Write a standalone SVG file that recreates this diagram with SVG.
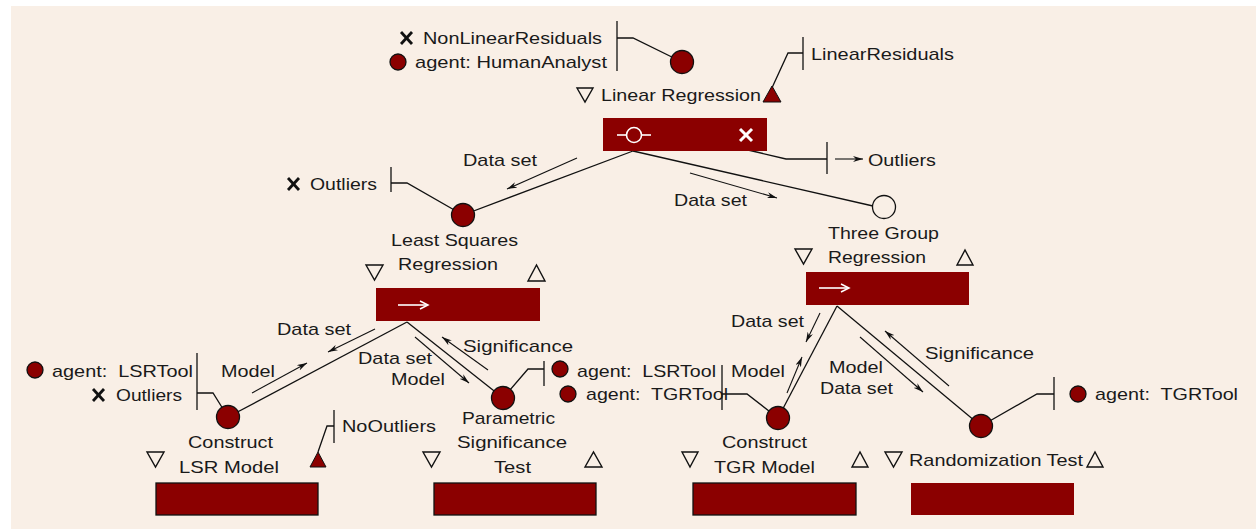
<svg xmlns="http://www.w3.org/2000/svg" width="1256" height="529" viewBox="0 0 1256 529">
<style>
text{font-family:"Liberation Sans",Arial,sans-serif;font-size:17px;fill:#1a1a1a}
.box{fill:#8b0000}
.bk{stroke:#111;stroke-width:1.3}
.dot{fill:#8b0000;stroke:#111;stroke-width:1.3}
.ln{fill:none;stroke:#111;stroke-width:1.3}
.ar{fill:none;stroke:#111;stroke-width:1.1;marker-end:url(#ah)}
.tri{fill:none;stroke:#111;stroke-width:1.4}
.ftri{fill:#8b0000;stroke:#111;stroke-width:1}
.xm{stroke:#111;stroke-width:2.8}
.wh{stroke:#fff;stroke-width:1.6;fill:none}
</style>
<defs>
<marker id="ah" viewBox="0 0 10 6" refX="10" refY="3" markerWidth="10" markerHeight="6" markerUnits="userSpaceOnUse" orient="auto"><path d="M0,0 L10,3 L0,6 L3,3 z" fill="#111"/></marker>
</defs>
<rect x="11" y="6" width="1245" height="523" fill="#f9efe6"/>

<g id="connectors">
<line class="ln" x1="633" y1="151" x2="463" y2="215"/>
<line class="ln" x1="633" y1="151" x2="873" y2="206"/>
<polyline class="ln" points="748,150 786,159 827,159"/>
<line class="ln" x1="827" y1="142" x2="827" y2="174"/>
<line class="ar" x1="835" y1="159" x2="863" y2="159"/>
<line class="ln" x1="617" y1="21" x2="617" y2="71"/>
<polyline class="ln" points="617,38 633,38 682,62"/>
<line class="ln" x1="803" y1="37" x2="803" y2="70"/>
<polyline class="ln" points="803,53 788,53 771,90"/>
<line class="ln" x1="391" y1="167" x2="391" y2="192"/>
<polyline class="ln" points="391,183 407,183 463,215"/>
<line class="ar" x1="577" y1="158" x2="507" y2="189"/>
<line class="ar" x1="690" y1="173" x2="777" y2="198"/>
<line class="ln" x1="407" y1="322" x2="228" y2="417"/>
<line class="ln" x1="407" y1="322" x2="503" y2="398"/>
<line class="ln" x1="197" y1="353" x2="197" y2="410"/>
<polyline class="ln" points="197,393 213,393 228,417"/>
<line class="ln" x1="334" y1="410" x2="334" y2="443"/>
<polyline class="ln" points="334,426 327,426 318,452"/>
<line class="ln" x1="544" y1="361" x2="544" y2="386"/>
<polyline class="ln" points="544,369 528,369 503,398"/>
<line class="ar" x1="375" y1="329" x2="328" y2="352"/>
<line class="ar" x1="252" y1="393" x2="307" y2="363"/>
<line class="ar" x1="415" y1="337" x2="469" y2="383"/>
<line class="ar" x1="488" y1="370" x2="442" y2="337"/>
<line class="ln" x1="837" y1="306" x2="778" y2="418"/>
<line class="ln" x1="837" y1="306" x2="981" y2="426"/>
<line class="ln" x1="722" y1="365" x2="722" y2="410"/>
<polyline class="ln" points="722,394 747,394 778,418"/>
<line class="ln" x1="1054" y1="377" x2="1054" y2="410"/>
<polyline class="ln" points="1054,394 1037,394 981,426"/>
<line class="ar" x1="820" y1="313" x2="806" y2="342"/>
<line class="ar" x1="787" y1="393" x2="802" y2="357"/>
<line class="ar" x1="860" y1="337" x2="923" y2="392"/>
<line class="ar" x1="949" y1="386" x2="885" y2="331"/>
</g>

<g id="linear-regression">
<circle class="dot" cx="682" cy="62" r="11.5"/>
<line class="xm" x1="401" y1="32" x2="412" y2="44"/><line class="xm" x1="412" y1="32" x2="401" y2="44"/>
<text x="423" y="44" textLength="179" lengthAdjust="spacingAndGlyphs">NonLinearResiduals</text>
<circle class="dot" cx="398" cy="62" r="8"/>
<text x="415" y="68" textLength="192" lengthAdjust="spacingAndGlyphs">agent: HumanAnalyst</text>
<text x="811" y="60" textLength="143" lengthAdjust="spacingAndGlyphs">LinearResiduals</text>
<polygon class="ftri" points="763,102 772,86 781,102"/>
<polygon class="tri" points="577,88 593,88 585,102"/>
<text x="601" y="101" textLength="160" lengthAdjust="spacingAndGlyphs">Linear Regression</text>
<rect class="box" x="603" y="118" width="164" height="33"/>
<line class="wh" x1="617" y1="135" x2="626" y2="135"/><circle class="wh" cx="634" cy="135" r="7.5"/><line class="wh" x1="642" y1="135" x2="651" y2="135"/>
<line stroke="#fff" stroke-width="3" x1="740" y1="129" x2="752" y2="141"/><line stroke="#fff" stroke-width="3" x1="752" y1="129" x2="740" y2="141"/>
<text x="868" y="166" textLength="68" lengthAdjust="spacingAndGlyphs">Outliers</text>
<text x="463" y="166" textLength="74" lengthAdjust="spacingAndGlyphs">Data set</text>
<text x="674" y="206" textLength="73" lengthAdjust="spacingAndGlyphs">Data set</text>
</g>

<g id="least-squares-regression">
<circle class="dot" cx="463" cy="215" r="11.5"/>
<line class="xm" x1="288" y1="178" x2="299" y2="190"/><line class="xm" x1="299" y1="178" x2="288" y2="190"/>
<text x="310" y="190" textLength="67" lengthAdjust="spacingAndGlyphs">Outliers</text>
<text x="391" y="246" textLength="127" lengthAdjust="spacingAndGlyphs">Least Squares</text>
<text x="398" y="270" textLength="100" lengthAdjust="spacingAndGlyphs">Regression</text>
<polygon class="tri" points="366,265 383,265 374.5,280"/>
<polygon class="tri" points="528,281 545,281 536.5,265"/>
<rect class="box" x="376" y="288" width="164" height="33"/>
<line class="wh" x1="398" y1="305" x2="427" y2="305" stroke-width="1.5"/><path d="M420,301 L428,305 L420,309" fill="none" stroke="#fff" stroke-width="1.5"/>
<text x="277" y="335" textLength="74" lengthAdjust="spacingAndGlyphs">Data set</text>
<text x="221" y="377" textLength="54" lengthAdjust="spacingAndGlyphs">Model</text>
<text x="358" y="364" textLength="74" lengthAdjust="spacingAndGlyphs">Data set</text>
<text x="391" y="385" textLength="54" lengthAdjust="spacingAndGlyphs">Model</text>
<text x="463" y="352" textLength="110" lengthAdjust="spacingAndGlyphs">Significance</text>
</g>

<g id="three-group-regression">
<circle cx="884" cy="207" r="11.5" fill="#f9efe6" stroke="#111" stroke-width="1.3"/>
<text x="828" y="239" textLength="111" lengthAdjust="spacingAndGlyphs">Three Group</text>
<text x="828" y="263" textLength="98" lengthAdjust="spacingAndGlyphs">Regression</text>
<polygon class="tri" points="795,249 812,249 803.5,264"/>
<polygon class="tri" points="957,265 973,265 965,250"/>
<rect class="box" x="806" y="272" width="163" height="33"/>
<line class="wh" x1="819" y1="288" x2="848" y2="288" stroke-width="1.5"/><path d="M841,284 L849,288 L841,292" fill="none" stroke="#fff" stroke-width="1.5"/>
<text x="731" y="327" textLength="73" lengthAdjust="spacingAndGlyphs">Data set</text>
<text x="731" y="377" textLength="54" lengthAdjust="spacingAndGlyphs">Model</text>
<text x="829" y="373" textLength="54" lengthAdjust="spacingAndGlyphs">Model</text>
<text x="820" y="394" textLength="73" lengthAdjust="spacingAndGlyphs">Data set</text>
<text x="925" y="359" textLength="109" lengthAdjust="spacingAndGlyphs">Significance</text>
</g>

<g id="construct-lsr-model">
<circle class="dot" cx="228" cy="417" r="11.5"/>
<circle class="dot" cx="35" cy="370" r="8"/>
<text x="52" y="377" textLength="141" lengthAdjust="spacingAndGlyphs">agent:&#160; LSRTool</text>
<line class="xm" x1="93" y1="389" x2="104" y2="401"/><line class="xm" x1="104" y1="389" x2="93" y2="401"/>
<text x="116" y="401" textLength="66" lengthAdjust="spacingAndGlyphs">Outliers</text>
<text x="188" y="448" textLength="85" lengthAdjust="spacingAndGlyphs">Construct</text>
<text x="179" y="473" textLength="100" lengthAdjust="spacingAndGlyphs">LSR Model</text>
<polygon class="tri" points="147,452 164,452 155.5,467"/>
<polygon class="ftri" points="310,467 318,452 326,467"/>
<text x="342" y="432" textLength="94" lengthAdjust="spacingAndGlyphs">NoOutliers</text>
<rect class="box bk" x="156" y="483" width="162" height="32"/>
</g>

<g id="parametric-significance-test">
<circle class="dot" cx="503" cy="398" r="11.5"/>
<circle class="dot" cx="560" cy="369" r="8"/>
<text x="577" y="377" textLength="139" lengthAdjust="spacingAndGlyphs">agent:&#160; LSRTool</text>
<text x="462" y="424" textLength="93" lengthAdjust="spacingAndGlyphs">Parametric</text>
<text x="457" y="448" textLength="110" lengthAdjust="spacingAndGlyphs">Significance</text>
<text x="494" y="473" textLength="37" lengthAdjust="spacingAndGlyphs">Test</text>
<polygon class="tri" points="423,452 440,452 431.5,467"/>
<polygon class="tri" points="585,467 602,467 593.5,452"/>
<rect class="box bk" x="434" y="483" width="162" height="32"/>
</g>

<g id="construct-tgr-model">
<circle class="dot" cx="778" cy="418" r="11.5"/>
<circle class="dot" cx="568" cy="394" r="8"/>
<text x="586" y="400" textLength="142" lengthAdjust="spacingAndGlyphs">agent:&#160; TGRTool</text>
<text x="722" y="448" textLength="85" lengthAdjust="spacingAndGlyphs">Construct</text>
<text x="714" y="473" textLength="101" lengthAdjust="spacingAndGlyphs">TGR Model</text>
<polygon class="tri" points="682,452 698,452 690,467"/>
<polygon class="tri" points="852,467 868,467 860,452"/>
<rect class="box bk" x="693" y="483" width="163" height="32"/>
</g>

<g id="randomization-test">
<circle class="dot" cx="981" cy="426" r="11.5"/>
<circle class="dot" cx="1078" cy="394" r="8"/>
<text x="1095" y="400" textLength="143" lengthAdjust="spacingAndGlyphs">agent:&#160; TGRTool</text>
<polygon class="tri" points="885,452 902,452 893.5,467"/>
<text x="909" y="466" textLength="174" lengthAdjust="spacingAndGlyphs">Randomization Test</text>
<polygon class="tri" points="1087,467 1103,467 1095,452"/>
<rect class="box" x="911" y="483" width="163" height="32"/>
</g>
</svg>
